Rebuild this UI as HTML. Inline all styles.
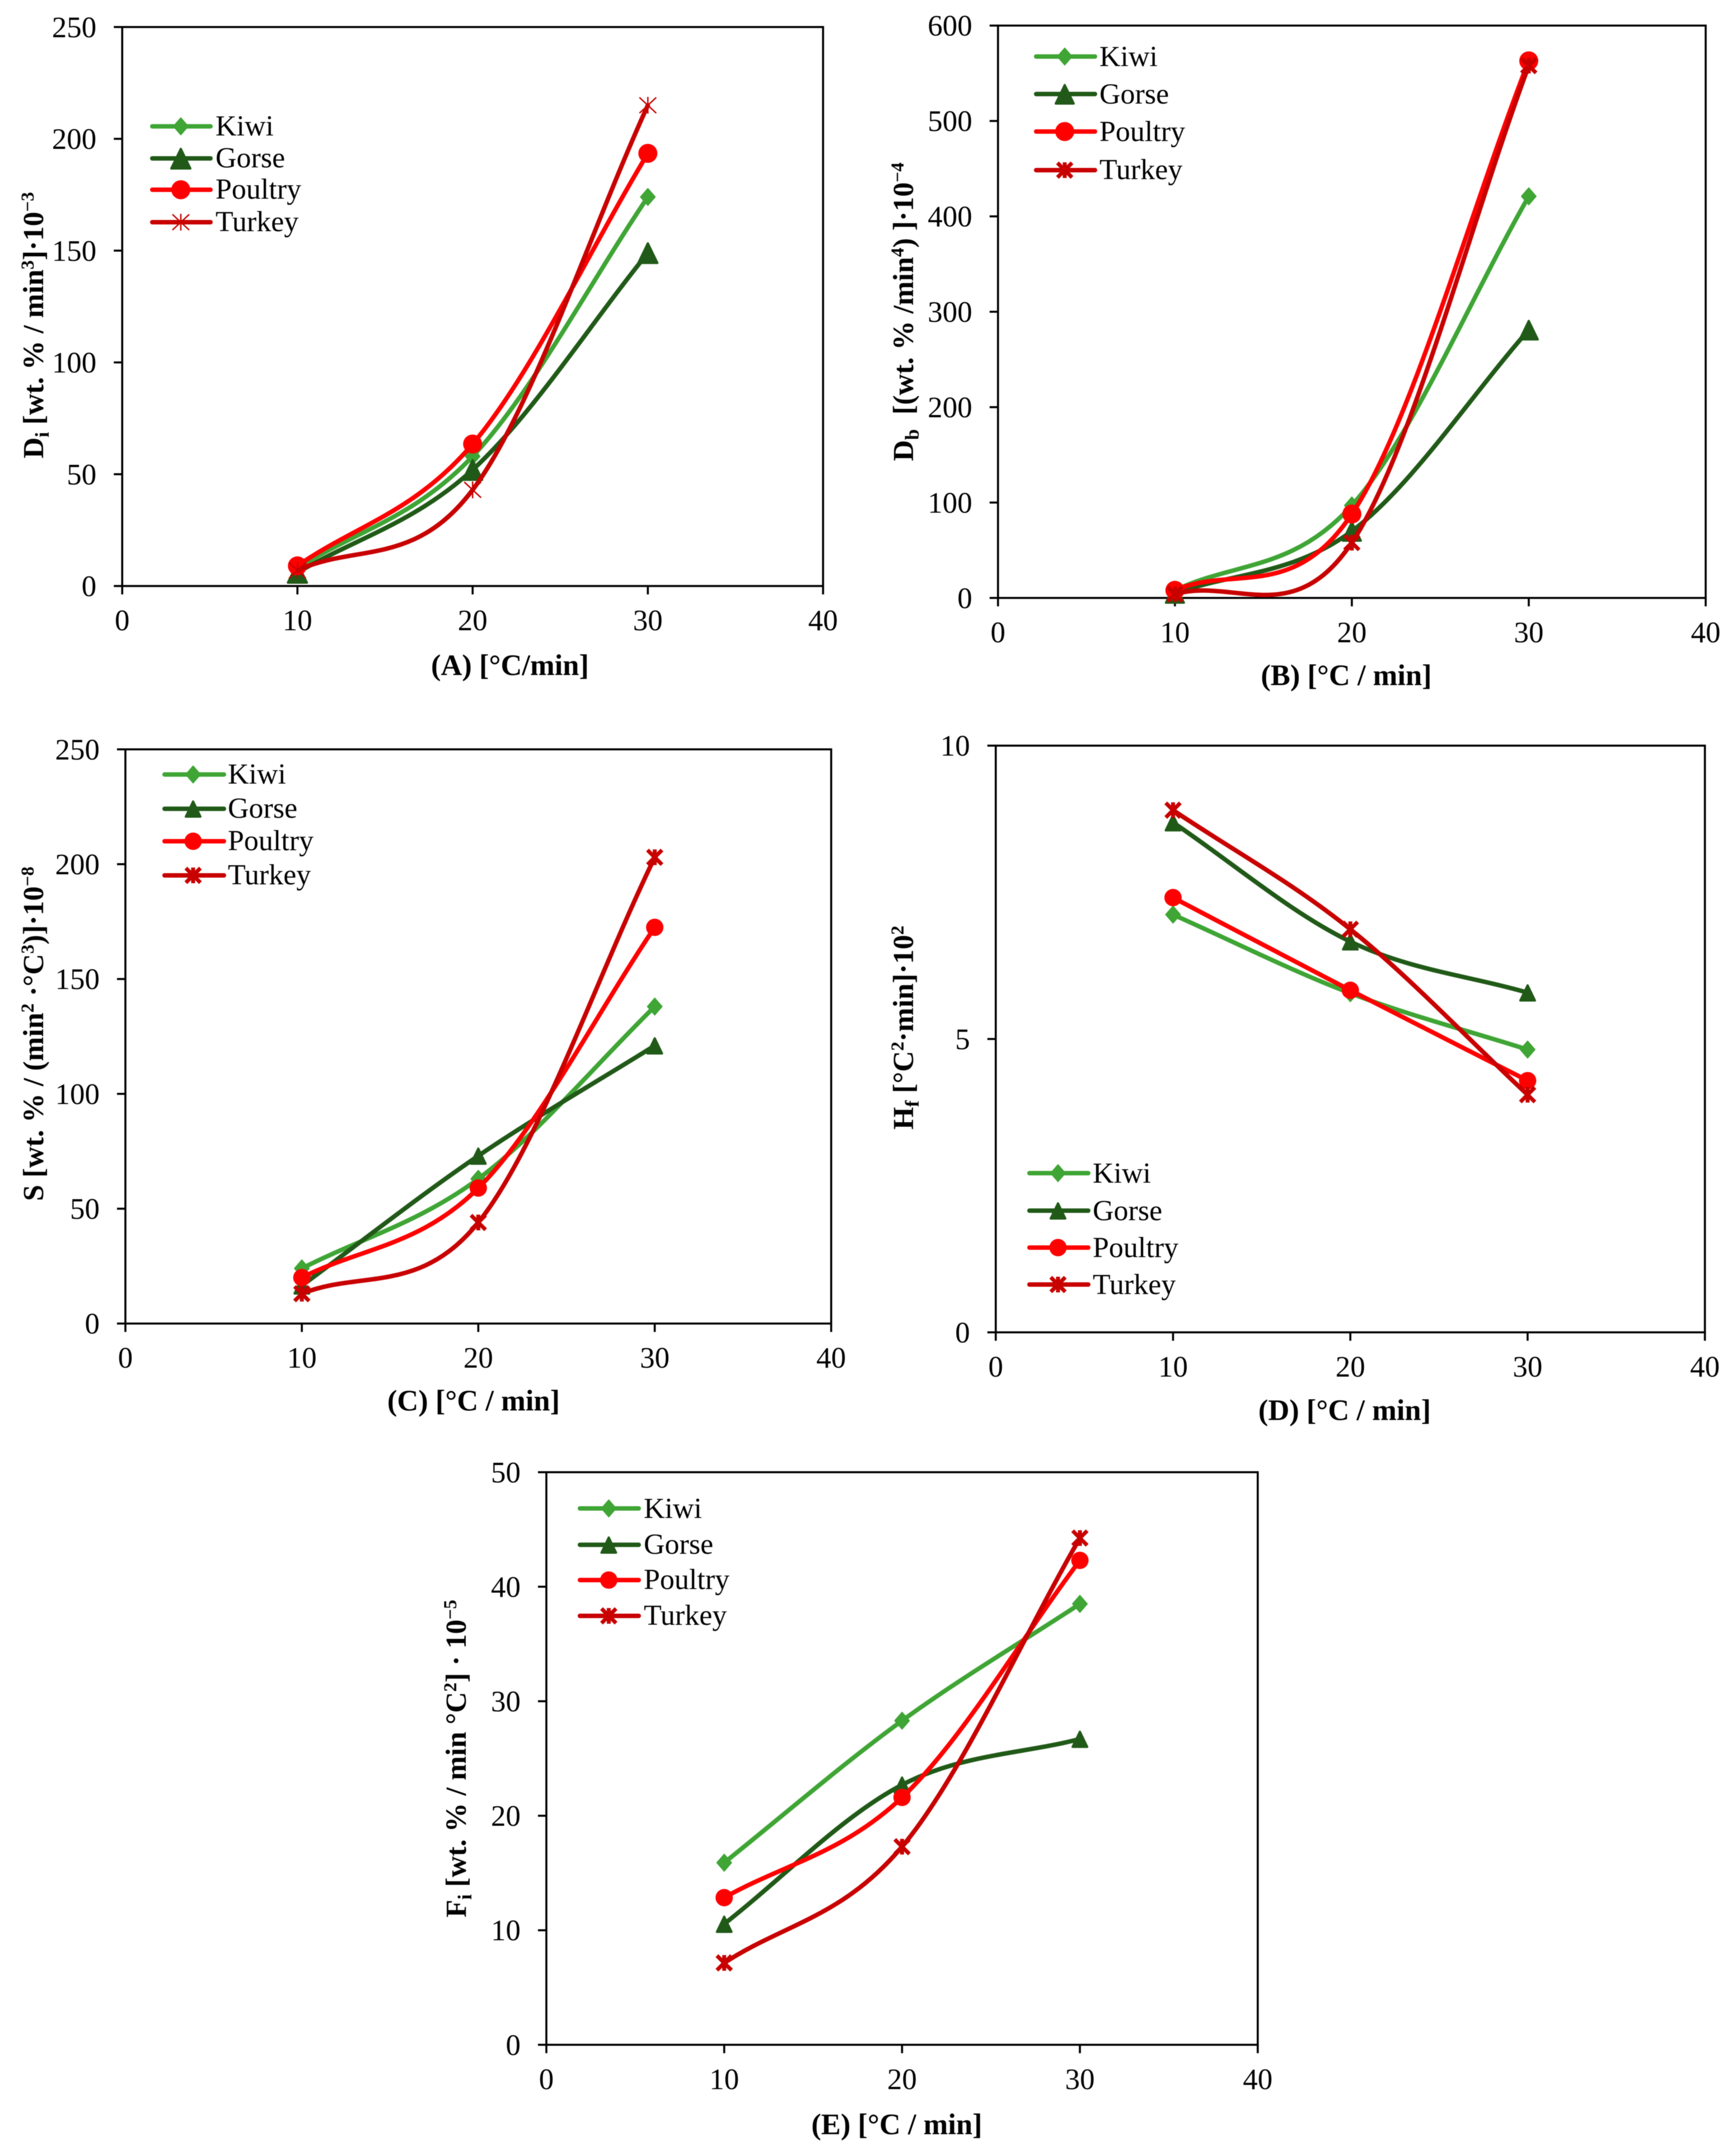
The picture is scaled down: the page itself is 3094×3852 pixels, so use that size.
<!DOCTYPE html>
<html lang="en">
<head>
<meta charset="utf-8">
<title>Combustion indices versus heating rate</title>
<style>
html,body{margin:0;padding:0;background:#fff;width:3094px;height:3852px;overflow:hidden}
svg{display:block;filter:blur(0.6px)}
text{font-family:"Liberation Serif","Times New Roman",serif;fill:#000;white-space:pre}
.legend-text{font-size:52px}
.tick{font-size:53px}
.x-title{font-size:52.5px;font-weight:bold;text-anchor:middle}
.y-title{font-size:52px;font-weight:bold;text-anchor:middle}
.sub{font-size:35px}
.sup{font-size:33px}
</style>
</head>
<body>
<svg id="figure" xmlns="http://www.w3.org/2000/svg" width="3094" height="3852" viewBox="0 0 3094 3852">
  <rect x="0" y="0" width="3094" height="3852" fill="#ffffff"/>

  <g id="panel-a">
    <text class="y-title" transform="translate(77,581) rotate(-90)">D<tspan class="sub" dy="10">i</tspan><tspan dy="-10"> [wt. % / min</tspan><tspan class="sup" dy="-17">3</tspan><tspan dy="17">]·10</tspan><tspan class="sup" dy="-17">−3</tspan></text>
    <text class="x-title" x="911" y="1206">(A) [°C/min]</text>
    <text class="legend-text" x="385" y="242">Kiwi</text>
    <text class="legend-text" x="385" y="299">Gorse</text>
    <text class="legend-text" x="385" y="355">Poultry</text>
    <text class="legend-text" x="385" y="413">Turkey</text>
  </g>

  <g id="panel-b">
    <text class="y-title" transform="translate(1631,557) rotate(-90)">D<tspan class="sub" dy="10">b</tspan><tspan dy="-10">  [(wt. % /min</tspan><tspan class="sup" dy="-17">4</tspan><tspan dy="17">) ]·10</tspan><tspan class="sup" dy="-17">−4</tspan></text>
    <text class="x-title" x="2405" y="1224">(B) [°C / min]</text>
    <text class="legend-text" x="1964" y="118">Kiwi</text>
    <text class="legend-text" x="1964" y="185">Gorse</text>
    <text class="legend-text" x="1964" y="252">Poultry</text>
    <text class="legend-text" x="1964" y="320">Turkey</text>
  </g>

  <g id="panel-c">
    <text class="y-title" transform="translate(77,1847) rotate(-90)">S [wt. % / (min<tspan class="sup" dy="-17">2</tspan><tspan dy="17"> ·°C</tspan><tspan class="sup" dy="-17">3</tspan><tspan dy="17">)]·10</tspan><tspan class="sup" dy="-17">−8</tspan></text>
    <text class="x-title" x="846" y="2520">(C) [°C / min]</text>
    <text class="legend-text" x="407" y="1400">Kiwi</text>
    <text class="legend-text" x="407" y="1461">Gorse</text>
    <text class="legend-text" x="407" y="1519">Poultry</text>
    <text class="legend-text" x="407" y="1580">Turkey</text>
  </g>

  <g id="panel-d">
    <text class="y-title" transform="translate(1631,1836) rotate(-90)">H<tspan class="sub" dy="10">f</tspan><tspan dy="-10"> [°C</tspan><tspan class="sup" dy="-17">2</tspan><tspan dy="17">·min]·10</tspan><tspan class="sup" dy="-17">2</tspan></text>
    <text class="x-title" x="2402" y="2537">(D) [°C / min]</text>
    <text class="legend-text" x="1952" y="2113">Kiwi</text>
    <text class="legend-text" x="1952" y="2180">Gorse</text>
    <text class="legend-text" x="1952" y="2246">Poultry</text>
    <text class="legend-text" x="1952" y="2312">Turkey</text>
  </g>

  <g id="panel-e">
    <text class="y-title" transform="translate(832,3142) rotate(-90)">F<tspan class="sub" dy="10">i</tspan><tspan dy="-10"> [wt. % / min °C</tspan><tspan class="sup" dy="-17">2</tspan><tspan dy="17">] · 10</tspan><tspan class="sup" dy="-17">−5</tspan></text>
    <text class="x-title" x="1602" y="3813">(E) [°C / min]</text>
    <text class="legend-text" x="1150" y="2712">Kiwi</text>
    <text class="legend-text" x="1150" y="2776">Gorse</text>
    <text class="legend-text" x="1150" y="2839">Poultry</text>
    <text class="legend-text" x="1150" y="2903">Turkey</text>
  </g>
</svg>

<script>
// Heating rates (x categories) and x tick labels
const heatingRates = [10, 20, 30];
const xTickLabels = [0, 10, 20, 30, 40];

// Panel A: Di
const aTicks = [0, 50, 100, 150, 200, 250];
const aKiwi = [8, 58, 174];
const aGorse = [6, 52, 149];
const aPoultry = [9, 63.5, 193.5];
const aTurkey = [7, 43, 215];

// Panel B: Db
const bTicks = [0, 100, 200, 300, 400, 500, 600];
const bKiwi = [8, 97, 421];
const bGorse = [5, 70, 281];
const bPoultry = [8, 88, 563];
const bTurkey = [4, 58, 558];

// Panel C: S
const cTicks = [0, 50, 100, 150, 200, 250];
const cKiwi = [24, 63, 138];
const cGorse = [16.5, 73, 121];
const cPoultry = [20, 59, 172.5];
const cTurkey = [13, 44, 203];

// Panel D: Hf
const dTicks = [0, 5, 10];
const dKiwi = [7.12, 5.78, 4.82];
const dGorse = [8.69, 6.66, 5.79];
const dPoultry = [7.41, 5.83, 4.29];
const dTurkey = [8.9, 6.87, 4.05];

// Panel E: Fi
const eTicks = [0, 10, 20, 30, 40, 50];
const eKiwi = [15.9, 28.3, 38.5];
const eGorse = [10.55, 22.7, 26.7];
const ePoultry = [12.85, 21.6, 42.3];
const eTurkey = [7.15, 17.3, 44.25];

const seriesStyles = {
  kiwi: {color: '#3fa535', marker: 'diamond'},
  gorse: {color: '#215a18', marker: 'triangle'},
  poultry: {color: '#ff0000', marker: 'circle'},
  turkey: {color: '#c80000', marker: 'asterisk'}
};

const layouts = [
  {id: 'a', x0: 218.3, x1: 1470.3, yTop: 48.3, yBase: 1047, ticks: aTicks,
   values: {kiwi: aKiwi, gorse: aGorse, poultry: aPoultry, turkey: aTurkey},
   legend: {x0: 272, x1: 376, mx: 323, ys: [225.7, 283, 339, 397]}, tri: 19, circ: 17, thin: true},
  {id: 'b', x0: 1782.8, x1: 3047, yTop: 45.7, yBase: 1068.3, ticks: bTicks,
   values: {kiwi: bKiwi, gorse: bGorse, poultry: bPoultry, turkey: bTurkey},
   legend: {x0: 1851, x1: 1956, mx: 1902, ys: [101, 168, 235, 304]}, tri: 18, circ: 17, thin: false},
  {id: 'c', x0: 224, x1: 1484.8, yTop: 1338.8, yBase: 2364.7, ticks: cTicks,
   values: {kiwi: cKiwi, gorse: cGorse, poultry: cPoultry, turkey: cTurkey},
   legend: {x0: 294, x1: 400, mx: 345, ys: [1383.7, 1445, 1503, 1564]}, tri: 15, circ: 15.5, thin: false},
  {id: 'd', x0: 1778.8, x1: 3045.6, yTop: 1332.2, yBase: 2380.4, ticks: dTicks,
   values: {kiwi: dKiwi, gorse: dGorse, poultry: dPoultry, turkey: dTurkey},
   legend: {x0: 1839, x1: 1944, mx: 1890, ys: [2096, 2163, 2229, 2295]}, tri: 15, circ: 15.5, thin: false},
  {id: 'e', x0: 976, x1: 2246.8, yTop: 2630.3, yBase: 3653.3, ticks: eTicks,
   values: {kiwi: eKiwi, gorse: eGorse, poultry: ePoultry, turkey: eTurkey},
   legend: {x0: 1036, x1: 1141, mx: 1087.5, ys: [2695, 2760, 2823, 2887]}, tri: 15, circ: 15.5, thin: false}
];

const NS = 'http://www.w3.org/2000/svg';

function mk(tag, attrs, parent) {
  const el = document.createElementNS(NS, tag);
  for (const k in attrs) el.setAttribute(k, attrs[k]);
  parent.appendChild(el);
  return el;
}

function smoothPath(pts) {
  let d = 'M' + pts[0][0].toFixed(1) + ' ' + pts[0][1].toFixed(1);
  for (let i = 0; i < pts.length - 1; i++) {
    const p1 = pts[i];
    const p2 = pts[i + 1];
    let c1x, c1y, c2x, c2y;
    if (i === 0) {
      c1x = p1[0] + (p2[0] - p1[0]) / 3;
      c1y = p1[1] + (p2[1] - p1[1]) / 3;
    } else {
      c1x = p1[0] + (p2[0] - pts[i - 1][0]) / 6;
      c1y = p1[1] + (p2[1] - pts[i - 1][1]) / 6;
    }
    if (i === pts.length - 2) {
      c2x = p2[0] - (p2[0] - p1[0]) / 3;
      c2y = p2[1] - (p2[1] - p1[1]) / 3;
    } else {
      c2x = p2[0] - (pts[i + 2][0] - p1[0]) / 6;
      c2y = p2[1] - (pts[i + 2][1] - p1[1]) / 6;
    }
    d += ' C' + c1x.toFixed(1) + ' ' + c1y.toFixed(1) + ' ' + c2x.toFixed(1) + ' ' + c2y.toFixed(1) + ' ' + p2[0].toFixed(1) + ' ' + p2[1].toFixed(1);
  }
  return d;
}

function drawMarker(parent, key, cx, cy, layout) {
  const style = seriesStyles[key];
  let el;
  if (style.marker === 'diamond') {
    el = mk('polygon', {points: (cx - 13) + ',' + cy + ' ' + cx + ',' + (cy - 15) + ' ' + (cx + 13) + ',' + cy + ' ' + cx + ',' + (cy + 15), fill: style.color, stroke: style.color, 'stroke-width': 2, 'stroke-linejoin': 'round'}, parent);
  } else if (style.marker === 'triangle') {
    const t = layout.tri;
    el = mk('polygon', {points: (cx - t + 2) + ',' + (cy + t - 1) + ' ' + cx + ',' + (cy - t + 2) + ' ' + (cx + t - 2) + ',' + (cy + t - 1), fill: style.color, stroke: style.color, 'stroke-width': 4, 'stroke-linejoin': 'round'}, parent);
  } else if (style.marker === 'circle') {
    el = mk('circle', {cx: cx, cy: cy, r: layout.circ, fill: style.color}, parent);
  } else {
    const rx = layout.thin ? 15 : 13;
    const ry = layout.thin ? 14 : 13;
    const sw = layout.thin ? 2.5 : 7;
    const d = 'M' + (cx - rx) + ' ' + (cy - ry) + 'L' + (cx + rx) + ' ' + (cy + ry) +
              'M' + (cx - rx) + ' ' + (cy + ry) + 'L' + (cx + rx) + ' ' + (cy - ry) +
              'M' + cx + ' ' + (cy - ry - 1) + 'L' + cx + ' ' + (cy + ry + 1);
    el = mk('path', {d: d, fill: 'none', stroke: style.color, 'stroke-width': sw}, parent);
  }
  
  
  return el;
}

layouts.forEach(function (p) {
  const root = document.getElementById('panel-' + p.id);
  const yMax = p.ticks[p.ticks.length - 1];
  const xMax = xTickLabels[xTickLabels.length - 1];
  const xScale = function (v) { return p.x0 + (v / xMax) * (p.x1 - p.x0); };
  const yScale = function (v) { return p.yBase - (v / yMax) * (p.yBase - p.yTop); };

  const frame = mk('rect', {x: p.x0, y: p.yTop, width: p.x1 - p.x0, height: p.yBase - p.yTop, fill: 'none', stroke: '#000', 'stroke-width': 3.6}, root);
  
  

  p.ticks.forEach(function (t) {
    const y = yScale(t);
    const tickMark = mk('line', {x1: p.x0 - 15, x2: p.x0, y1: y, y2: y, stroke: '#000', 'stroke-width': 3.6}, root);
    
    
    const label = mk('text', {x: p.x0 - 46, y: y + 18, 'text-anchor': 'end', class: 'tick'}, root);
    label.textContent = String(t);
    
    
  });

  xTickLabels.forEach(function (t) {
    const x = xScale(t);
    const tickMark = mk('line', {x1: x, x2: x, y1: p.yBase, y2: p.yBase + 15, stroke: '#000', 'stroke-width': 3.6}, root);
    
    
    const label = mk('text', {x: x, y: p.yBase + 79, 'text-anchor': 'middle', class: 'tick'}, root);
    label.textContent = String(t);
    
    
  });

  Object.keys(seriesStyles).forEach(function (key, idx) {
    const style = seriesStyles[key];
    const vals = p.values[key];
    const pts = heatingRates.map(function (r, i) { return [xScale(r), yScale(vals[i])]; });
    const line = mk('path', {d: smoothPath(pts), fill: 'none', stroke: style.color, 'stroke-width': 8, 'stroke-linecap': 'round', 'stroke-linejoin': 'round'}, root);
    
    
    pts.forEach(function (pt) { drawMarker(root, key, pt[0], pt[1], p); });

    const ly = p.legend.ys[idx];
    const keyLine = mk('line', {x1: p.legend.x0, x2: p.legend.x1, y1: ly, y2: ly, stroke: style.color, 'stroke-width': 8, 'stroke-linecap': 'round'}, root);
    
    
    drawMarker(root, key, p.legend.mx, ly, p);
  });
});
</script>
</body>
</html>
